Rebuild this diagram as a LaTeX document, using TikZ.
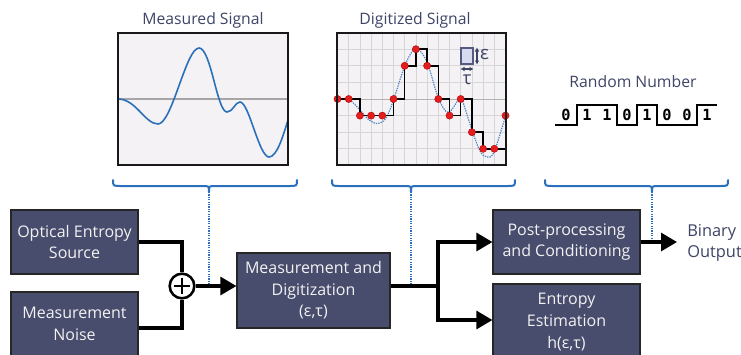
\documentclass[tikz,border=0pt]{standalone}
\usepackage{fontspec}
\setmainfont{Open Sans}
\newfontfamily\bitfont{DejaVu Sans Mono}
\usetikzlibrary{arrows.meta}
\definecolor{boxfill}{HTML}{484C6D}
\definecolor{textdark}{HTML}{3E4466}
\definecolor{braceblue}{HTML}{2B70BA}
\definecolor{panelfill}{HTML}{F4F2F4}
\definecolor{gridgray}{HTML}{D6D6D8}
\definecolor{dotred}{HTML}{E41E1E}
\definecolor{legfill}{HTML}{D8DBF0}
\definecolor{legedge}{HTML}{555A80}
\begin{document}
\begin{tikzpicture}[x=0.75pt,y=-0.75pt,
  blk/.style={draw=black!85, line width=0.9pt, fill=boxfill, text=white!95!black,
    font=\fontsize{12}{16.2}\selectfont, align=center, inner sep=0pt},
  conn/.style={line width=2.3pt},
  arr/.style={conn, -{Triangle[length=12pt,width=13.5pt]}},
  dotline/.style={braceblue, line width=0.8pt, dash pattern=on 0.9pt off 0.9pt},
  bracestyle/.style={braceblue, line width=1.5pt, line cap=round},
  title/.style={text=textdark, font=\fontsize{11.8}{14}\selectfont, inner sep=0pt},
  gridline/.style={gridgray, line width=0.6pt},
  panelborder/.style={line width=1.6pt, draw=black!90},
  bitstyle/.style={font=\bitfont\bfseries\fontsize{11.5}{12}\selectfont, inner sep=0pt}
]
\clip (0,0) rectangle (741,354);

% ---------- top panels: Measured signal ----------
\node[title] (t1) at (203,20) {Measured Signal};
\fill[panelfill] (118,33) rectangle (288,165);
\draw[black!35, line width=0.8pt] (118,99) -- (288,99);
\draw[braceblue, line width=1.2pt] (118,99) .. controls (136,99) and (145,124) .. (158,124)
  .. controls (172,124) and (186,48) .. (199,48)
  .. controls (211,48) and (217,112) .. (227,112)
  .. controls (233,112) and (235,102) .. (240,102)
  .. controls (249,102) and (259,157) .. (269,157)
  .. controls (277,157) and (283,136) .. (288,120);
\draw[panelborder] (118,33) rectangle (288,165);

% ---------- Digitized signal ----------
\node[title] (t2) at (415,20) {Digitized Signal};
\fill[panelfill] (337,33) rectangle (506,165);
\foreach \i in {1,...,14} \draw[gridline] ({337.5+11.2*\i},33) -- ({337.5+11.2*\i},165);
\foreach \k in {-3,-2,-1,1,2,3} \draw[gridline] (337,{99-16.6*\k}) -- (506,{99-16.6*\k});
\draw[black!30, line width=0.7pt] (337,99) -- (506,99);
\draw[braceblue!85, line width=0.9pt, dash pattern=on 1pt off 0.8pt] plot[smooth, tension=0.55] coordinates {
  (337.5,99) (349,99.5) (360,110) (369,120) (378,123.5) (386,118) (393.5,100)
  (404.7,66) (414,48.5) (418,48.8) (427,62) (438,97) (446,111.5) (451,110.5)
  (459,99) (462,99.5) (472,130) (480,151) (487,157) (494,152) (505.5,116)};
\draw[black, line width=1.1pt] (337.5,99) -- (359.9,99) -- (359.9,115.6) -- (393.5,115.6)
  -- (393.5,99) -- (404.7,99) -- (404.7,65.8) -- (415.9,65.8) -- (415.9,49.2)
  -- (427.1,49.2) -- (427.1,65.8) -- (438.3,65.8) -- (438.3,99) -- (449.5,99)
  -- (449.5,115.6) -- (460.7,115.6) -- (460.7,99) -- (471.9,99) -- (471.9,132.2)
  -- (483.1,132.2) -- (483.1,148.8) -- (505.5,148.8) -- (505.5,115.6);
\foreach \x/\y in {337.5/99, 348.7/99, 359.9/115.6, 371.1/115.6, 382.3/115.6, 393.5/99,
  404.7/65.8, 415.9/49.2, 427.1/65.8, 438.3/99, 449.5/115.6, 460.7/99, 471.9/132.2,
  483.1/148.8, 494.3/148.8, 505.5/115.6}
  \fill[dotred, draw=red!70!black, line width=0.3pt] (\x,\y) circle[radius=2.7pt];
% legend
\draw[fill=legfill, draw=legedge, line width=0.8pt] (461,48) rectangle (473,64);
\draw[textdark, line width=0.8pt, {Latex[length=3pt,width=3.5pt]}-{Latex[length=3pt,width=3.5pt]}] (477,47.5) -- (477,64.5);
\node[text=textdark, font=\fontsize{14}{14}\selectfont, inner sep=0pt] (eps) at (484.5,55) {ε};
\draw[textdark, line width=0.8pt, {Latex[length=3pt,width=3.5pt]}-{Latex[length=3pt,width=3.5pt]}] (460.5,69) -- (473.5,69);
\node[text=textdark, font=\fontsize{13.5}{14}\selectfont, inner sep=0pt] (tau) at (467,80) {τ};
\draw[panelborder] (337,33) rectangle (506,165);

% ---------- Random number ----------
\node[title] (t3) at (633,82) {Random Number};
\draw[black, line width=1.2pt] (555,125) -- (577,125) -- (577,105) -- (617,105) -- (617,125)
  -- (637,125) -- (637,105) -- (657,105) -- (657,125) -- (697,125) -- (697,105) -- (717,105);
\foreach \x/\d in {566/0,587/1,607/1,627/0,647/1,667/0,687/0,707/1}
  \node[bitstyle] (bit\x) at (\x,115) {\d};

% ---------- braces ----------
\draw[bracestyle] (113,180) .. controls (113,186) .. (121,186) -- (203,186)
  .. controls (209,186) .. (209,192) .. controls (209,186) .. (215,186) -- (289,186)
  .. controls (297,186) .. (297,180);
\draw[bracestyle] (332,180) .. controls (332,186) .. (340,186) -- (405,186)
  .. controls (411,186) .. (411,192) .. controls (411,186) .. (417,186) -- (507,186)
  .. controls (515,186) .. (515,180);
\draw[bracestyle] (545,180) .. controls (545,186) .. (553,186) -- (646,186)
  .. controls (652,186) .. (652,192) .. controls (652,186) .. (658,186) -- (720,186)
  .. controls (728,186) .. (728,180);

% ---------- blocks ----------
\node[blk, minimum width=95.25pt, minimum height=48pt] (src) at (74.5,242) {Optical Entropy\\Source};
\node[blk, minimum width=95.25pt, minimum height=48pt] (noise) at (74.5,324) {Measurement\\Noise};
\node[blk, minimum width=114.75pt, minimum height=56.25pt] (meas) at (313.5,290.5) {Measurement and\\Digitization\\(ε,τ)};
\node[blk, minimum width=110.25pt, minimum height=48pt] (post) at (566.5,242) {Post-processing\\and Conditioning};
\node[blk, minimum width=110.25pt, minimum height=57pt] (ent) at (566.5,322) {Entropy\\Estimation\\h(ε,τ)};
\node[circle, draw, line width=1.9pt, fill=white, minimum size=18.5pt, inner sep=0pt] (sum) at (182,286) {};
\draw[line width=1.4pt] (sum.center) +(-8,0) -- +(8,0);
\draw[line width=1.4pt] (sum.center) +(0,-8) -- +(0,8);

% ---------- dotted links ----------
\coordinate (b1) at (209,192);
\coordinate (b2) at (411,192);
\coordinate (b3) at (652,192);
\draw[dotline] (b1) -- (b1 |- sum.east);
\draw[dotline] (b2) -- (b2 |- sum.east);
\draw[dotline] (b3) -- (b3 |- post.east);

% ---------- connectors ----------
\draw[conn] (src.east) -| (sum.north);
\draw[conn] ([yshift=-3pt]noise.east) -| (sum.south);
\draw[arr] (sum.east) -- (sum.east -| meas.west);
\coordinate (br) at (438,286);
\draw[conn] (meas.east |- sum.east) -- (br);
\draw[arr] (br) |- (post.west);
\draw[arr] (br) |- ([yshift=1.5pt]ent.west);
\coordinate (out) at (677,242);
\draw[arr] (post.east) -- (out);
\node[anchor=west, text=textdark, align=left, font=\fontsize{12.3}{15.8}\selectfont, inner sep=0pt] (binout) at (687,243) {Binary\\Output};
\end{tikzpicture}
\end{document}
